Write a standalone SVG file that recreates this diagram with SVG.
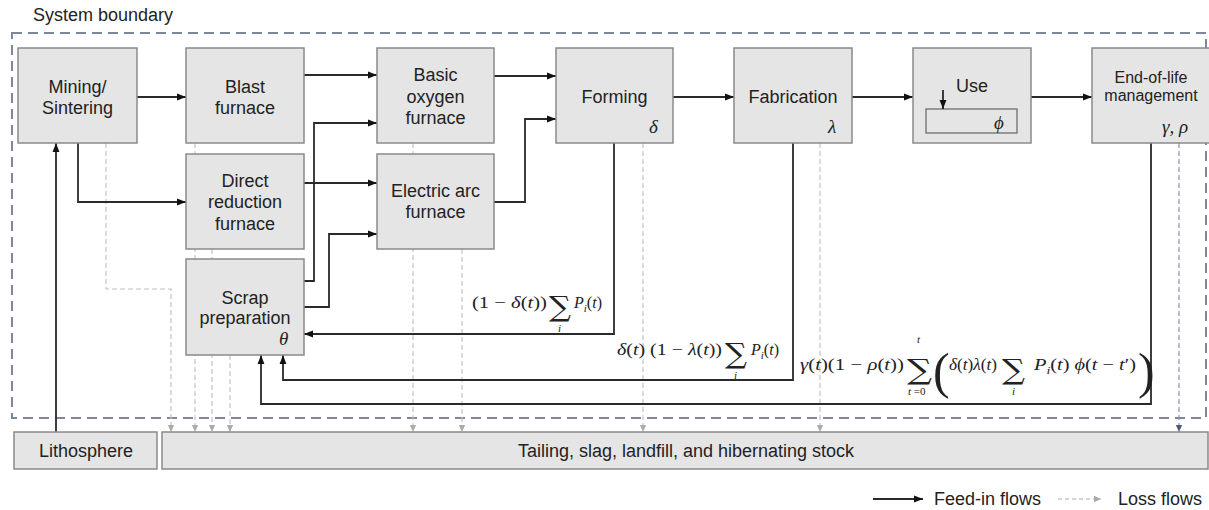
<svg xmlns="http://www.w3.org/2000/svg" width="1209" height="510" viewBox="0 0 1209 510">
<style>
.box{fill:#e5e5e5;stroke:#8a8a8a;stroke-width:1.5}
.lbl{font-family:"Liberation Sans",Arial,sans-serif;font-size:18px;fill:#222;text-anchor:middle}
.sm{font-size:16px}
.feed{fill:none;stroke:#2a2a2a;stroke-width:1.8;marker-end:url(#ah)}
.loss{fill:none;stroke:#c2c2c2;stroke-width:1.2;stroke-dasharray:5 3;marker-end:url(#lh)}
.m{font-family:"Liberation Serif","DejaVu Serif",serif;font-size:16px;fill:#222}
.mi{font-style:italic}
.g{font-family:"Liberation Serif","DejaVu Serif",serif;font-style:italic;font-size:19px;fill:#222}
.sig{font-family:"DejaVu Serif",serif;font-size:28px;fill:#222}
.sub{font-family:"Liberation Serif",serif;font-style:italic;font-size:11px;fill:#222}
.par{font-family:"Liberation Serif",serif;fill:#222}
</style>
<defs>
<marker id="ah" viewBox="0 0 10 10" refX="10" refY="5" markerWidth="9" markerHeight="9" markerUnits="userSpaceOnUse" orient="auto"><path d="M0,1.2 L10,5 L0,8.8z" fill="#111"/></marker>
<marker id="lh" viewBox="0 0 10 10" refX="10" refY="5" markerWidth="7" markerHeight="8" markerUnits="userSpaceOnUse" orient="auto"><path d="M0,0.5 L10,5 L0,9.5z" fill="#ababab"/></marker>
<marker id="bh" viewBox="0 0 10 10" refX="10" refY="5" markerWidth="7" markerHeight="8" markerUnits="userSpaceOnUse" orient="auto"><path d="M0,0.5 L10,5 L0,9.5z" fill="#4c5b78"/></marker>
</defs>
<rect width="1209" height="510" fill="#fff"/>
<text x="33" y="21" style="font-family:'Liberation Sans',Arial,sans-serif;font-size:18px;fill:#222">System boundary</text>
<rect x="12" y="33" width="1194" height="385" fill="none" stroke="#7d889c" stroke-width="2" stroke-dasharray="10 6"/>
<g id="connectors">
<path class="loss" d="M106,143 V289 H171 V432"/>
<path class="loss" d="M195,143 V432"/>
<path class="loss" d="M212,249 V432"/>
<path class="loss" d="M230,355 V432"/>
<path class="loss" d="M413,143 V432"/>
<path class="loss" d="M462,249 V432"/>
<path class="loss" d="M643,143 V432"/>
<path class="loss" d="M820,143 V432"/>
<path d="M1179,143 V432" fill="none" stroke="#8896b0" stroke-width="1.2" stroke-dasharray="5 3" marker-end="url(#bh)"/>
<path class="feed" d="M56,432 V143"/>
<path class="feed" d="M137,97 H186"/>
<path class="feed" d="M78,143 V202 H186"/>
<path class="feed" d="M304,75 H377"/>
<path class="feed" d="M304,183 H377"/>
<path class="feed" d="M304,281 H314 V123 H377"/>
<path class="feed" d="M304,307 H329 V234 H377"/>
<path class="feed" d="M494,76 H556"/>
<path class="feed" d="M494,202 H525 V119 H556"/>
<path class="feed" d="M673,97 H734"/>
<path class="feed" d="M852,97 H913"/>
<path class="feed" d="M1031,97 H1092"/>
<path class="feed" d="M614,143 V334 H304"/>
<path class="feed" d="M793,143 V380 H283 V355"/>
<path class="feed" d="M1151,143 V404 H261 V355"/>
</g>
<g id="mining"><rect class="box" x="18" y="48" width="119" height="95"/><text class="lbl" x="77.5" y="93">Mining/</text><text class="lbl" x="77.5" y="114">Sintering</text></g>
<g id="blast"><rect class="box" x="186" y="48" width="118" height="95"/><text class="lbl" x="245" y="93">Blast</text><text class="lbl" x="245" y="114">furnace</text></g>
<g id="drf"><rect class="box" x="186" y="154" width="118" height="95"/><text class="lbl" x="245" y="187">Direct</text><text class="lbl" x="245" y="208">reduction</text><text class="lbl" x="245" y="230">furnace</text></g>
<g id="scrap"><rect class="box" x="186" y="259" width="118" height="96"/><text class="lbl" x="245" y="304">Scrap</text><text class="lbl" x="245" y="324">preparation</text><text class="g" x="279" y="345">θ</text></g>
<g id="bof"><rect class="box" x="377" y="48" width="117" height="95"/><text class="lbl" x="435.5" y="81">Basic</text><text class="lbl" x="435.5" y="103">oxygen</text><text class="lbl" x="435.5" y="124">furnace</text></g>
<g id="eaf"><rect class="box" x="377" y="154" width="117" height="95"/><text class="lbl" x="435.5" y="197">Electric arc</text><text class="lbl" x="435.5" y="218">furnace</text></g>
<g id="forming"><rect class="box" x="556" y="48" width="117" height="95"/><text class="lbl" x="614.5" y="103">Forming</text><text class="g" x="649" y="133">δ</text></g>
<g id="fabrication"><rect class="box" x="734" y="48" width="118" height="95"/><text class="lbl" x="793" y="103">Fabrication</text><text class="g" x="828" y="133">λ</text></g>
<g id="use"><rect class="box" x="913" y="48" width="118" height="95"/><text class="lbl" x="972" y="92">Use</text><rect x="926" y="109" width="91" height="24" fill="#e5e5e5" stroke="#6e6e6e" stroke-width="1.3"/><path d="M943,90 V109" fill="none" stroke="#111" stroke-width="1.6" marker-end="url(#ah)"/><text class="g" x="994" y="129">ϕ</text></g>
<g id="eol"><rect class="box" x="1092" y="48" width="118" height="95"/><text class="lbl sm" x="1151" y="83">End-of-life</text><text class="lbl sm" x="1151" y="101">management</text><text class="g" x="1162" y="133">γ, ρ</text></g>
<g id="lithosphere"><rect class="box" x="14" y="432" width="143" height="37"/><text class="lbl" x="86" y="457">Lithosphere</text></g>
<g id="tailing"><rect class="box" x="162" y="432" width="1046" height="37"/><text class="lbl" x="686" y="457">Tailing, slag, landfill, and hibernating stock</text></g>
<g id="labels">
<text class="m" x="472" y="308" textLength="75" lengthAdjust="spacingAndGlyphs">(1 − <tspan class="mi">δ</tspan>(<tspan class="mi">t</tspan>))</text>
<text class="sig" x="549" y="316" textLength="22" lengthAdjust="spacingAndGlyphs">∑</text><text class="sub" x="558" y="332">i</text>
<text class="m" x="574" y="308"><tspan class="mi">P</tspan><tspan class="mi" font-size="11" dy="4">i</tspan><tspan dy="-4">(</tspan><tspan class="mi">t</tspan>)</text>

<text class="m" x="617" y="355" textLength="105" lengthAdjust="spacingAndGlyphs"><tspan class="mi">δ</tspan>(<tspan class="mi">t</tspan>) (1 − <tspan class="mi">λ</tspan>(<tspan class="mi">t</tspan>))</text>
<text class="sig" x="725" y="363" textLength="22" lengthAdjust="spacingAndGlyphs">∑</text><text class="sub" x="734" y="379">i</text>
<text class="m" x="751" y="355"><tspan class="mi">P</tspan><tspan class="mi" font-size="11" dy="4">i</tspan><tspan dy="-4">(</tspan><tspan class="mi">t</tspan>)</text>

<text class="m" x="800" y="370" textLength="104" lengthAdjust="spacingAndGlyphs"><tspan class="mi">γ</tspan>(<tspan class="mi">t</tspan>)(1 − <tspan class="mi">ρ</tspan>(<tspan class="mi">t</tspan>))</text>
<text class="sig" x="907" y="379" textLength="25" lengthAdjust="spacingAndGlyphs">∑</text><text class="sub" x="917" y="343">t</text><text class="sub" x="908" y="395">t <tspan font-style="normal">=0</tspan></text>
<text class="par" x="933" y="388" font-size="50" font-weight="100">(</text>
<text class="m" x="949" y="370" textLength="48" lengthAdjust="spacingAndGlyphs"><tspan class="mi">δ</tspan>(<tspan class="mi">t</tspan>)<tspan class="mi">λ</tspan>(<tspan class="mi">t</tspan>)</text>
<text class="sig" x="1002" y="379" textLength="23" lengthAdjust="spacingAndGlyphs">∑</text><text class="sub" x="1012" y="395">i</text>
<text class="m" x="1034" y="370" textLength="102" lengthAdjust="spacingAndGlyphs"><tspan class="mi">P</tspan><tspan class="mi" font-size="11" dy="4">i</tspan><tspan dy="-4">(</tspan><tspan class="mi">t</tspan>) <tspan class="mi">ϕ</tspan>(<tspan class="mi">t</tspan> − <tspan class="mi">t</tspan>′)</text>
<text class="par" x="1138" y="388" font-size="50" font-weight="100">)</text>
</g>
<g id="legend">
<path d="M873,499 H923" fill="none" stroke="#2a2a2a" stroke-width="1.8" marker-end="url(#ah)"/>
<text x="934" y="505" style="font-family:'Liberation Sans',Arial,sans-serif;font-size:18px;fill:#222">Feed-in flows</text>
<path d="M1058,499 H1101" fill="none" stroke="#c8c8c8" stroke-width="1.3" stroke-dasharray="4 3" marker-end="url(#lh)"/>
<text x="1118" y="505" style="font-family:'Liberation Sans',Arial,sans-serif;font-size:18px;fill:#222">Loss flows</text>
</g>
</svg>
